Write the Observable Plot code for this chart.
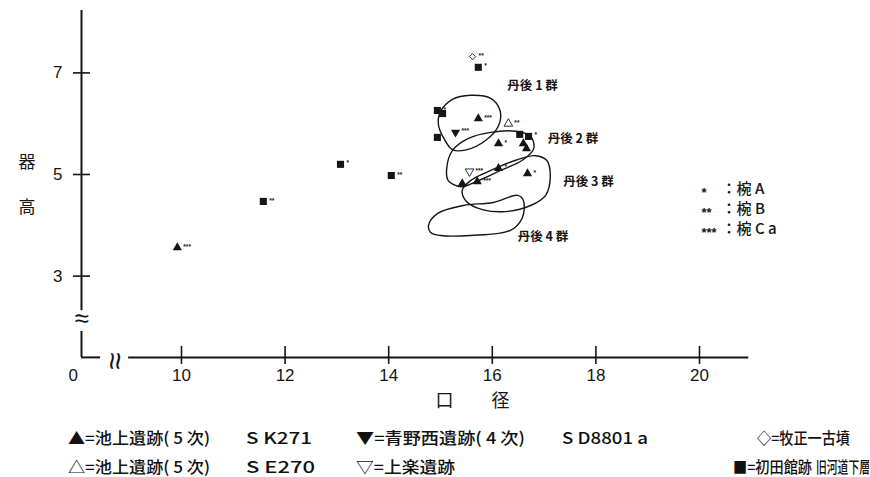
<!DOCTYPE html>
<html><head><meta charset="utf-8">
<script src="https://cdn.jsdelivr.net/npm/d3@7"></script>
<script src="https://cdn.jsdelivr.net/npm/@observablehq/plot@0.6"></script>
<style>
body{margin:0;background:#fff;}
#wrap{position:relative;width:870px;height:477px;overflow:hidden;background:#fff}
.lg{position:absolute;font-family:"Noto Sans CJK JP";font-size:16px;font-weight:500;color:#111;white-space:pre;line-height:1;transform-origin:0 50%}
</style></head><body><div id="wrap"></div>
<script>
// ---- data ----
const diameters = [9.92, 11.58, 13.07, 14.05, 15.62, 15.73, 14.94, 15.04, 14.94, 15.73, 15.29, 16.31, 16.12, 16.53, 16.70, 16.60, 16.66, 15.56, 16.12, 16.68, 15.71, 15.42];
const heights   = [3.56, 4.47, 5.20, 4.98, 7.32, 7.11, 6.26, 6.20, 5.73, 6.10, 5.83, 6.00, 5.61, 5.79, 5.75, 5.61, 5.51, 5.06, 5.12, 5.02, 4.86, 4.82];
const sites     = ["A","F","F","F","E","F","F","F","F","A","C","B","A","F","F","A","A","D","A","A","A","A"];
const wanTypes  = ["Ca","B","A","B","B","A","A","","","Ca","Ca","B","A","","A","","","Ca","A","A","Ca",""];

const tango1 = [[15.0,6.24],[15.23,6.48],[15.58,6.56],[15.97,6.50],[16.15,6.26],[16.12,5.96],[15.87,5.67],[15.48,5.48],[15.23,5.49],[15.06,5.72],[14.96,5.98]];
const tango2 = [[15.12,5.12],[15.23,5.47],[15.54,5.71],[15.97,5.83],[16.45,5.85],[16.74,5.75],[16.80,5.51],[16.58,5.28],[16.16,5.08],[15.73,4.88],[15.39,4.76],[15.15,4.88]];
const tango3 = [[15.42,4.69],[15.58,4.88],[15.97,5.08],[16.45,5.28],[16.83,5.37],[17.05,5.28],[17.12,4.98],[17.03,4.59],[16.74,4.39],[16.25,4.27],[15.81,4.31],[15.50,4.47]];
const tango4 = [[14.77,4.0],[14.94,4.23],[15.44,4.39],[16.02,4.45],[16.49,4.59],[16.60,4.49],[16.58,4.15],[16.35,3.90],[15.58,3.80],[15.0,3.80],[14.81,3.86]];
const groupNames = ["丹後 1 群","丹後 2 群","丹後 3 群","丹後 4 群"];

const xTicks = [10, 12, 14, 16, 18, 20];
const yTicks = [3, 5, 7];
const wanStars = ["*", "**", "***"];
const wanNames = ["：椀 A", "：椀 B", "：椀 C a"];
const siteLegend = [
  ["▲=池上遺跡( 5 次)", "S K271"],
  ["△=池上遺跡( 5 次)", "S E270"],
  ["▼=青野西遺跡( 4 次)", "S D8801 a"],
  ["▽=上楽遺跡", ""],
  ["◇=牧正一古墳", ""],
  ["■=初田館跡", "旧河道下層"]
];

// ---- build ----
const stars = {"A":"*","B":"**","Ca":"***","":""};
const pts = diameters.map((d,i)=>({x:d, y:heights[i], site:sites[i], wan:stars[wanTypes[i]]}));
const outlines = [tango1,tango2,tango3,tango4].flatMap((g,gi)=>g.map(([x,y])=>({x,y,g:gi})));

const triDown = {draw(ctx,size){const y=-Math.sqrt(size/(Math.sqrt(3)*3));const s=Math.sqrt(3);ctx.moveTo(0,-y*2);ctx.lineTo(-s*y,y);ctx.lineTo(s*y,y);ctx.closePath();}};

const X0 = 8.07, X1 = 21, Y0 = 1.4, Y1 = 8.23;
const W = 870, H = 420;
const ink = "#151515";
const font = "Liberation Sans, Arial, sans-serif";
const jp = "Noto Sans CJK JP";
const bySite = s => pts.filter(p=>p.site===s);

const wanMarks = wanStars.flatMap((s,i)=>[
  Plot.text([s], {frameAnchor:"top-left", dx: 620, dy: 177+i*20, fontSize: 13, fontWeight:"bold", fill: ink, fontFamily: font}),
  Plot.text([wanNames[i]], {frameAnchor:"top-left", dx: 640, dy: 173+i*20, textAnchor:"start", fontSize: 15, fontWeight: 500, fill: ink, fontFamily: jp})
]);

const chart = Plot.plot({
  width: W, height: H,
  marginLeft: 81, marginRight: 119.2, marginTop: 9.9, marginBottom: 63.1,
  x: {domain:[X0,X1], axis:null},
  y: {domain:[Y0,Y1], axis:null},
  style: {background:"#fff", overflow:"visible"},
  marks: [
    // axes
    Plot.ruleX([X0], {y1: 2.32, y2: Y1, stroke: ink, strokeWidth: 2}),
    Plot.ruleX([X0], {y1: 1.91, y2: Y0, stroke: ink, strokeWidth: 2}),
    Plot.ruleY([Y0], {x1: X0, x2: 8.44, stroke: ink, strokeWidth: 2}),
    Plot.ruleY([Y0], {x1: 8.98, x2: 20.95, stroke: ink, strokeWidth: 2}),
    Plot.ruleX(xTicks, {x: d=>d, insetTop: 336, insetBottom: -7, stroke: ink, strokeWidth: 1.6}),
    Plot.ruleY(yTicks, {y: d=>d, insetLeft: -8, insetRight: 660.8, stroke: ink, strokeWidth: 1.6}),
    Plot.text(["≈"], {frameAnchor:"bottom-left", dx: -7, dy:-30, fontSize: 26, fill: ink, fontFamily: font}),
    Plot.text(["≈"], {frameAnchor:"bottom-left", dx: 23, dy: -5, rotate: 90, fontSize: 31, fill: ink, fontFamily: font}),
    Plot.text(xTicks, {x: d=>d, frameAnchor:"bottom", dy: 24, text: d=>String(d), fontSize: 17, fill: ink, fontFamily: font}),
    Plot.text(["0"], {frameAnchor:"bottom-left", dx: -13, dy: 24, fontSize: 17, fill: ink, fontFamily: font}),
    Plot.text(yTicks, {y: d=>d, frameAnchor:"left", dx: -19, textAnchor:"end", text: d=>String(d), fontSize: 17, fill: ink, fontFamily: font}),
    Plot.text(["器"], {frameAnchor:"top-left", dx: -63, dy: 146, fontSize: 17, fill: ink, fontFamily: jp}),
    Plot.text(["高"], {frameAnchor:"top-left", dx: -63, dy: 191, fontSize: 17, fill: ink, fontFamily: jp}),
    Plot.text(["口"], {frameAnchor:"bottom-left", dx: 354, dy: 50, fontSize: 18, fill: ink, fontFamily: jp}),
    Plot.text(["径"], {frameAnchor:"bottom-left", dx: 410, dy: 50, fontSize: 18, fill: ink, fontFamily: jp}),
    // group outlines
    Plot.line(outlines, {x:"x", y:"y", z:"g", curve:"catmull-rom-closed", stroke: ink, strokeWidth: 1.4}),
    Plot.text(groupNames, {x: [16.29,17.07,17.37,16.49], y:[6.74,5.69,4.86,3.76], text: d=>d, textAnchor:"start", fontSize: 12.5, fontWeight: "bold", fill: ink, fontFamily: jp}),
    // points
    Plot.dot(bySite("A"), {x:"x", y:"y", symbol:"triangle", r: 3.4, fill: ink, stroke: "none"}),
    Plot.dot(bySite("B"), {x:"x", y:"y", symbol:"triangle", r: 3.2, fill: "#fff", stroke: ink, strokeWidth: 0.9}),
    Plot.dot(bySite("C"), {x:"x", y:"y", symbol: triDown, r: 3.4, fill: ink, stroke: "none"}),
    Plot.dot(bySite("D"), {x:"x", y:"y", symbol: triDown, r: 3.2, fill: "#fff", stroke: ink, strokeWidth: 0.9}),
    Plot.dot(bySite("E"), {x:"x", y:"y", symbol:"diamond2", r: 2.8, fill: "#fff", stroke: ink, strokeWidth: 0.9}),
    Plot.dot(bySite("F"), {x:"x", y:"y", symbol:"square", r: 4.0, fill: ink, stroke: "none"}),
    Plot.text(pts.filter(p=>p.wan), {x:"x", y:"y", text:"wan", dx: 6, dy: -1, textAnchor:"start", fontSize: 6.5, fontWeight: "bold", fill: ink, fontFamily: font}),
    ...wanMarks
  ]
});
const wrap = document.getElementById("wrap");
wrap.appendChild(chart);
chart.style.position = "absolute"; chart.style.left = "0"; chart.style.top = "0";

// bottom legend (HTML), each piece fitted to the span it takes in the reference
const rowsY = [437, 466];
const spans = [
  [[68,210],[246,312]],
  [[68,210],[246,315]],
  [[356,525],[562,648]],
  [[356,455],null],
  [[757,850],null],
  [[733,812],[816,870]]
];
const rowOf = [0,1,0,1,0,1];
siteLegend.forEach((pair,i)=>{
  pair.forEach((txt,j)=>{
    if (!txt || !spans[i][j]) return;
    const [l,r] = spans[i][j];
    const d = document.createElement("div");
    d.className = "lg"; d.textContent = txt;
    d.style.left = l+"px"; d.style.top = (rowsY[rowOf[i]]-8)+"px";
    wrap.appendChild(d);
    const w = d.getBoundingClientRect().width;
    d.style.transform = `scaleX(${(r-l)/w})`;
  });
});
</script>
</body></html>
